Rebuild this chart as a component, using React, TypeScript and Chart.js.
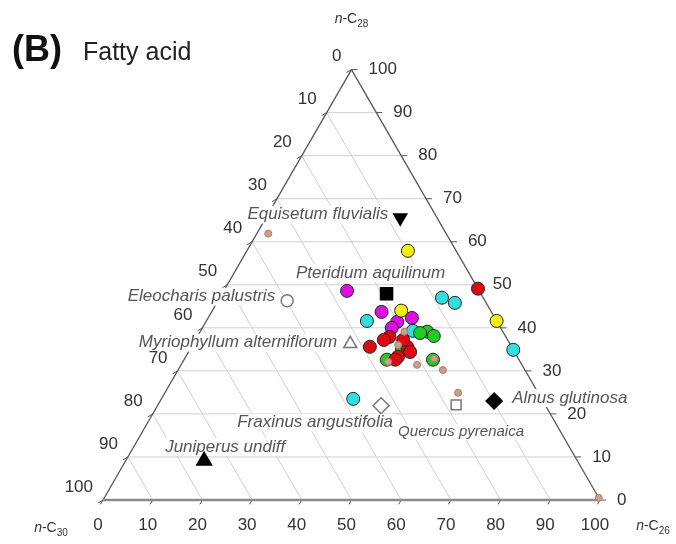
import React, { useEffect, useRef } from "react";
import { Chart, registerables } from "chart.js";

Chart.register(...registerables);

// ---------- DATA (compositions in % of n-C26, n-C28, n-C30) ----------
const tickValues = [0, 10, 20, 30, 40, 50, 60, 70, 80, 90, 100];
const gridValues = [10, 20, 30, 40, 50, 60, 70, 80, 90];

const speciesNames = [
  "Equisetum fluvialis",
  "Pteridium aquilinum",
  "Eleocharis palustris",
  "Myriophyllum alterniflorum",
  "Fraxinus angustifolia",
  "Quercus pyrenaica",
  "Alnus glutinosa",
  "Juniperus undiff",
];
const speciesC26 = [27.0, 33.1, 13.9, 31.6, 45.0, 60.0, 67.2, 15.8];
const speciesC28 = [65.6, 47.9, 46.3, 36.3, 21.9, 22.1, 23.0, 9.1];
const speciesC30 = [7.4, 19.0, 39.8, 32.1, 33.1, 17.9, 9.8, 75.1];

const yellowC26 = [32.4, 58.4, 38.0];
const yellowC28 = [57.9, 41.6, 44.0];
const yellowC30 = [9.7, 0.0, 18.0];

const redC26 = [50.9, 35.9, 38.7, 42.7, 43.4, 44.6, 37.9, 41.8, 42.5];
const redC28 = [49.1, 35.6, 37.9, 33.3, 35.6, 34.4, 37.2, 37.2, 32.6];
const redC30 = [0.0, 28.5, 23.4, 24.0, 21.0, 21.0, 24.9, 21.0, 24.9];

const magentaC26 = [24.8, 34.2, 38.5, 41.0, 38.1];
const magentaC28 = [48.6, 43.7, 41.4, 42.3, 40.0];
const magentaC30 = [26.6, 22.1, 20.1, 16.7, 21.9];

const cyanC26 = [44.7, 47.9, 65.1, 32.3, 42.7, 38.6];
const cyanC28 = [47.0, 45.8, 34.9, 41.6, 39.3, 23.5];
const cyanC30 = [8.3, 6.3, 0.0, 26.1, 18.0, 37.9];

const greenC26 = [45.7, 47.5, 42.5, 40.8, 50.1, 44.4];
const greenC28 = [39.1, 38.1, 35.3, 32.6, 32.6, 38.8];
const greenC30 = [15.2, 14.4, 22.2, 26.6, 17.3, 16.8];

const tanC26 = [2.3, 47.5, 53.3, 59.0, 99.5, 41.3, 50.2, 41.1, 41.4];
const tanC28 = [61.9, 31.4, 30.2, 24.9, 0.5, 32.1, 32.8, 39.1, 36.0];
const tanC30 = [35.8, 21.1, 16.5, 16.1, 0.0, 26.6, 17.0, 19.8, 22.6];

// ---------- STYLE / LAYOUT ----------
const speciesMarker = ["triangle", "rect", "circle", "triangle", "rectRot", "rect", "rectRot", "triangle"];
const speciesRotation = [180, 0, 0, 0, 0, 0, 0, 0];
const speciesFill = ["#000", "#000", "#fff", "#fff", "#fff", "#fff", "#000", "#000"];
const speciesStroke = ["#000", "#000", "#777", "#777", "#777", "#777", "#000", "#000"];
const speciesRadius = [7.5, 8.5, 6, 7.5, 8, 7, 8, 8.5];
const speciesLabelLayout = [
  { dx: -12, dy: -3, align: "right", size: 17 },
  { dx: -16, dy: -21, align: "center", size: 17 },
  { dx: -12, dy: -4, align: "right", size: 17 },
  { dx: -13, dy: -1, align: "right", size: 17 },
  { dx: 12, dy: 17, align: "right", size: 17 },
  { dx: -58, dy: 27, align: "left", size: 15 },
  { dx: 18, dy: -3, align: "left", size: 17 },
  { dx: 21, dy: -14, align: "center", size: 17 },
];

const FONT = '"Liberation Sans", Arial, Helvetica, sans-serif';
const SQ3_2 = Math.sqrt(3) / 2;
// axis ranges (ternary base = 1 unit)
const X_MIN = -103 / 497;
const X_MAX = 573 / 497;
const Y_MIN = -44 / 497;
const Y_MAX = 500 / 497;

function toXY(c26: number, c28: number, c30: number) {
  const s = c26 + c28 + c30;
  const a = c26 / s;
  const b = c28 / s;
  return { x: a + b / 2, y: b * SQ3_2 };
}
function series(c26: number[], c28: number[], c30: number[]) {
  return c26.map((v, i) => toXY(v, c28[i], c30[i]));
}

function lineDs(pts: { x: number; y: number }[], color: string, width: number, order: number, extra: any = {}) {
  return {
    data: pts,
    showLine: true,
    pointRadius: 0,
    borderColor: color,
    borderWidth: width,
    backgroundColor: color,
    order,
    clip: false as any,
    ...extra,
  };
}

function circleDs(pts: any[], fill: string, stroke: string, r: number, order: number, bw = 1) {
  return {
    data: pts,
    showLine: false,
    pointStyle: "circle",
    pointRadius: r,
    pointBackgroundColor: fill,
    pointBorderColor: stroke,
    pointBorderWidth: bw,
    order,
  };
}

function pixelFn(chart: any) {
  const xs = chart.scales.x;
  const ys = chart.scales.y;
  return (a: number, b: number, c: number) => {
    const p = toXY(a, b, c);
    return { x: xs.getPixelForValue(p.x), y: ys.getPixelForValue(p.y) };
  };
}

const decorPlugin = {
  id: "ternaryDecor",
  beforeDatasetsDraw(chart: any) {
    const ctx = chart.ctx as CanvasRenderingContext2D;
    const P = pixelFn(chart);
    ctx.save();
    ctx.strokeStyle = "#555";
    ctx.lineWidth = 1;
    const seg = (x1: number, y1: number, x2: number, y2: number) => {
      ctx.beginPath();
      ctx.moveTo(x1, y1);
      ctx.lineTo(x2, y2);
      ctx.stroke();
    };
    tickValues.forEach((v) => {
      const r = P(100 - v, v, 0);
      seg(r.x, r.y, r.x + 6, r.y);
      const l = P(0, 100 - v, v);
      seg(l.x, l.y, l.x - 5, l.y + 3);
      const b = P(v, 0, 100 - v);
      seg(b.x, b.y, b.x - 2.5, b.y + 4.3);
    });
    ctx.restore();
  },
  afterDatasetDraw(chart: any, args: any) {
    const ds = chart.data.datasets[args.index];
    if (!ds || !ds._labelsAfter) return;
    const ctx = chart.ctx as CanvasRenderingContext2D;
    const P = pixelFn(chart);
    ctx.save();
    // species labels (white boxes hide the lines beneath)
    speciesNames.forEach((name, i) => {
      const p = P(speciesC26[i], speciesC28[i], speciesC30[i]);
      const lay = speciesLabelLayout[i];
      ctx.font = `italic ${lay.size}px ${FONT}`;
      const w = ctx.measureText(name).width;
      const x = p.x + lay.dx;
      const y = p.y + lay.dy;
      let x0 = x;
      if (lay.align === "right") x0 = x - w;
      else if (lay.align === "center") x0 = x - w / 2;
      const h = lay.size * 1.05;
      ctx.fillStyle = "#fff";
      ctx.fillRect(x0 - 1, y - h / 2, w + 2, h);
      ctx.fillStyle = "#555";
      ctx.textAlign = "left";
      ctx.textBaseline = "middle";
      ctx.fillText(name, x0, y);
    });
    ctx.restore();
  },
  afterDatasetsDraw(chart: any) {
    const ctx = chart.ctx as CanvasRenderingContext2D;
    const P = pixelFn(chart);
    ctx.save();
    // tick labels
    ctx.fillStyle = "#333";
    ctx.font = `17px ${FONT}`;
    ctx.textBaseline = "middle";
    tickValues.forEach((v) => {
      const l = P(0, 100 - v, v);
      ctx.textAlign = "right";
      ctx.fillText(String(v), l.x - 10, l.y - 13);
      const r = P(100 - v, v, 0);
      ctx.textAlign = "left";
      ctx.fillText(String(v), r.x + 17, r.y);
      const b = P(v, 0, 100 - v);
      ctx.textAlign = "center";
      ctx.fillText(String(v), b.x - 5, b.y + 25);
    });

    // axis names
    const axisName = (sub: string, cx: number, cy: number) => {
      const f = 14;
      ctx.font = `italic ${f}px ${FONT}`;
      const wn = ctx.measureText("n").width;
      ctx.font = `${f}px ${FONT}`;
      const wc = ctx.measureText("-C").width;
      ctx.font = `${Math.round(f * 0.72)}px ${FONT}`;
      const ws = ctx.measureText(sub).width;
      let x = cx - (wn + wc + ws) / 2;
      ctx.fillStyle = "#333";
      ctx.textAlign = "left";
      ctx.textBaseline = "middle";
      ctx.font = `italic ${f}px ${FONT}`;
      ctx.fillText("n", x, cy);
      x += wn;
      ctx.font = `${f}px ${FONT}`;
      ctx.fillText("-C", x, cy);
      x += wc;
      ctx.font = `${Math.round(f * 0.72)}px ${FONT}`;
      ctx.fillText(sub, x, cy + 5);
    };
    const top = P(0, 100, 0);
    const bl = P(0, 0, 100);
    const br = P(100, 0, 0);
    axisName("28", top.x, top.y - 50);
    axisName("30", bl.x - 52, bl.y + 28);
    axisName("26", br.x + 53, br.y + 26);

    // title
    ctx.fillStyle = "#111";
    ctx.textAlign = "left";
    ctx.textBaseline = "alphabetic";
    ctx.font = `bold 36px ${FONT}`;
    ctx.fillText("(B)", 12, 61);
    ctx.fillStyle = "#222";
    ctx.font = `25px ${FONT}`;
    ctx.fillText("Fatty acid", 83, 60);
    ctx.restore();
  },
};

export default function App() {
  const ref = useRef<HTMLCanvasElement | null>(null);
  useEffect(() => {
    if (!ref.current) return;
    const datasets: any[] = [];
    // grid lines
    gridValues.forEach((v) => {
      datasets.push(lineDs([toXY(0, v, 100 - v), toXY(100 - v, v, 0)], "rgb(208,208,208)", 1, 100));
      datasets.push(lineDs([toXY(0, 100 - v, v), toXY(100 - v, 0, v)], "rgb(208,208,208)", 1, 100));
    });
    // edges
    datasets.push(lineDs([toXY(0, 100, 0), toXY(0, 0, 100)], "#555", 1.3, 92));
    datasets.push(lineDs([toXY(0, 100, 0), toXY(100, 0, 0)], "#555", 1.3, 91));
    datasets.push(lineDs([toXY(0, 0, 100), toXY(100, 0, 0)], "#8a8a8a", 2.6, 90, { _labelsAfter: true }));
    // sample groups
    datasets.push(circleDs(series(cyanC26, cyanC28, cyanC30), "#33dde0", "#222", 6.5, 9));
    datasets.push(circleDs(series(magentaC26, magentaC28, magentaC30), "#dd11dd", "#222", 6.5, 8));
    datasets.push(circleDs(series(yellowC26, yellowC28, yellowC30), "#f2ee10", "#222", 6.5, 7));
    datasets.push(circleDs(series(greenC26, greenC28, greenC30), "#22cc22", "#222", 6.5, 6));
    datasets.push(circleDs(series(redC26, redC28, redC30), "#dd0a14", "#222", 6.5, 5));
    datasets.push(circleDs(series(tanC26, tanC28, tanC30), "#c9a08c", "#b07a66", 3.5, 2));
    // reference species
    datasets.push({
      data: series(speciesC26, speciesC28, speciesC30),
      showLine: false,
      pointStyle: speciesMarker,
      rotation: speciesRotation,
      pointRadius: speciesRadius,
      pointBackgroundColor: speciesFill,
      pointBorderColor: speciesStroke,
      pointBorderWidth: 1.5,
      order: 1,
      clip: false,
    });

    const chart = new Chart(ref.current, {
      type: "scatter",
      data: { datasets },
      options: {
        animation: false,
        responsive: false,
        devicePixelRatio: 1,
        events: [],
        layout: { padding: 0, autoPadding: false },
        scales: {
          x: { type: "linear", display: false, min: X_MIN, max: X_MAX },
          y: { type: "linear", display: false, min: Y_MIN, max: Y_MAX },
        },
        plugins: { legend: { display: false }, tooltip: { enabled: false }, title: { display: false } },
      },
      plugins: [decorPlugin],
    } as any);
    return () => chart.destroy();
  }, []);

  return (
    <div style={{ position: "absolute", left: 0, top: 0, width: 676, height: 544, background: "#fff" }}>
      <canvas ref={ref} width={676} height={544} style={{ display: "block", width: 676, height: 544 }} />
    </div>
  );
}
